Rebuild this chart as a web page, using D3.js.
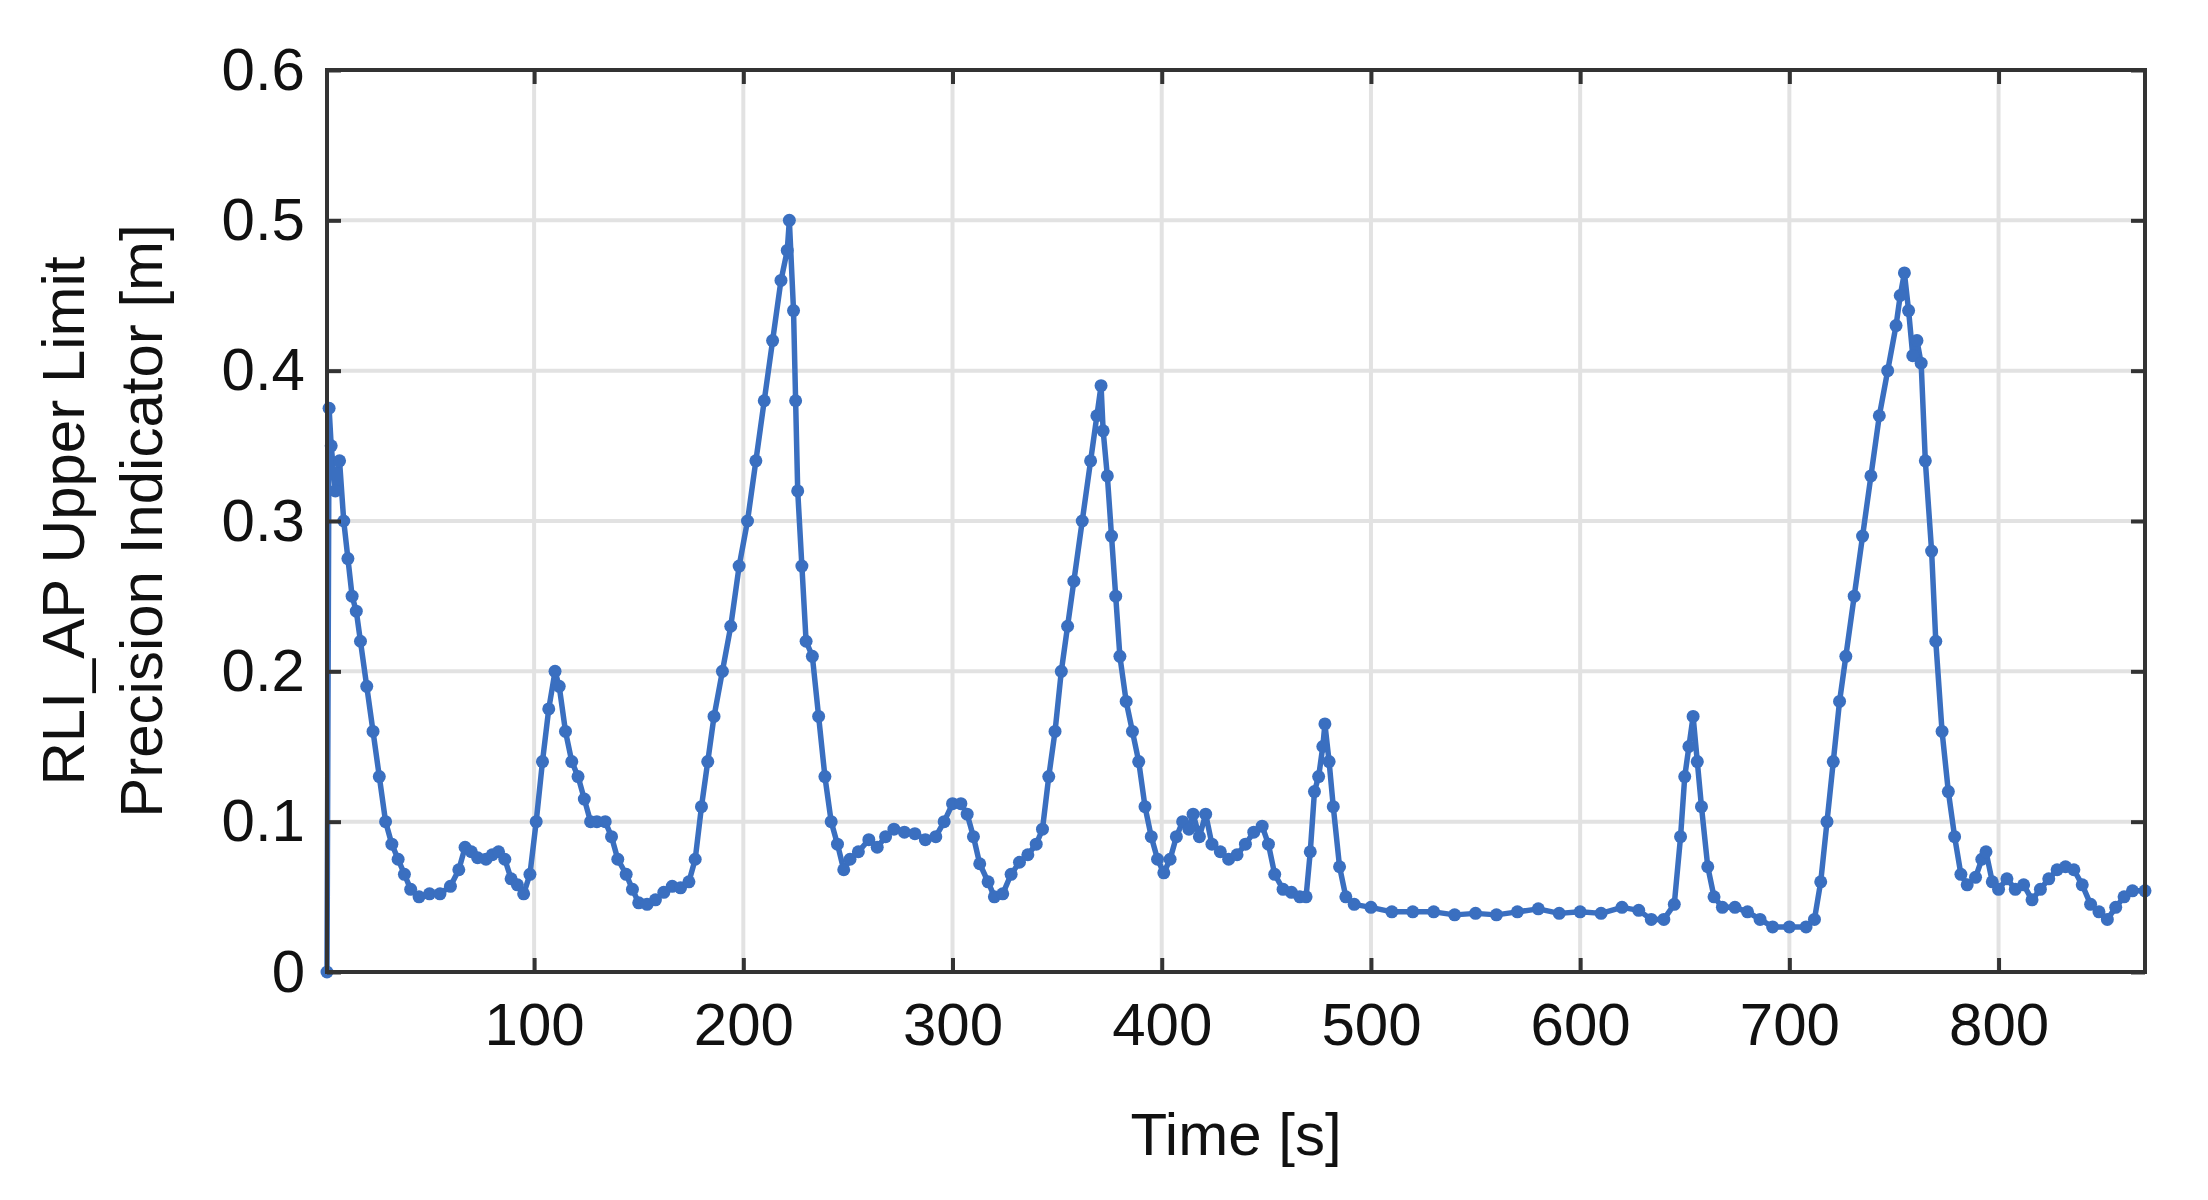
<!DOCTYPE html>
<html><head><meta charset="utf-8">
<script src="https://cdn.jsdelivr.net/npm/d3@7"></script>
<style>body{margin:0;background:#fff}</style></head>
<body><svg id="c" width="2208" height="1200"></svg>
<script>
const times=[1,2,3,5,7,9,11,13,15,17,20,23,26,29,32,35,38,41,45,50,55,60,64,67,70,73,77,80,83,86,89,92,95,98,101,104,107,110,112,115,118,121,124,127,130,134,137,140,144,147,150,154,158,162,166,170,174,177,180,183,186,190,194,198,202,206,210,214,218,221,222,224,225,226,228,230,233,236,239,242,245,248,251,255,260,264,268,272,277,282,287,292,296,300,304,307,310,313,317,320,324,328,332,336,340,343,346,349,352,355,358,362,366,369,371,372,374,376,378,380,383,386,389,392,395,398,401,404,407,410,413,415,418,421,424,428,432,436,440,444,448,451,454,458,462,466,469,471,473,475,477,478,480,482,485,488,492,500,510,520,530,540,550,560,570,580,590,600,610,620,628,634,640,645,648,650,652,654,656,658,661,664,668,674,680,686,692,700,708,712,715,718,721,724,727,731,735,739,743,747,751,753,755,757,759,761,763,765,768,770,773,776,779,782,785,789,792,794,797,800,804,808,812,816,820,824,828,832,836,840,844,848,852,856,860,864,870];
const rli=[0,0.375,0.35,0.32,0.34,0.30,0.275,0.25,0.24,0.22,0.19,0.16,0.13,0.10,0.085,0.075,0.065,0.055,0.05,0.052,0.052,0.057,0.068,0.083,0.08,0.076,0.075,0.078,0.08,0.075,0.062,0.058,0.052,0.065,0.1,0.14,0.175,0.2,0.19,0.16,0.14,0.13,0.115,0.1,0.1,0.1,0.09,0.075,0.065,0.055,0.046,0.045,0.048,0.053,0.057,0.056,0.06,0.075,0.11,0.14,0.17,0.2,0.23,0.27,0.3,0.34,0.38,0.42,0.46,0.48,0.5,0.44,0.38,0.32,0.27,0.22,0.21,0.17,0.13,0.1,0.085,0.068,0.075,0.08,0.088,0.083,0.09,0.095,0.093,0.092,0.088,0.09,0.1,0.112,0.112,0.105,0.09,0.072,0.06,0.05,0.052,0.065,0.073,0.078,0.085,0.095,0.13,0.16,0.2,0.23,0.26,0.3,0.34,0.37,0.39,0.36,0.33,0.29,0.25,0.21,0.18,0.16,0.14,0.11,0.09,0.075,0.066,0.075,0.09,0.1,0.095,0.105,0.09,0.105,0.085,0.08,0.075,0.078,0.085,0.093,0.097,0.085,0.065,0.055,0.053,0.05,0.05,0.08,0.12,0.13,0.15,0.165,0.14,0.11,0.07,0.05,0.045,0.043,0.04,0.04,0.04,0.038,0.039,0.038,0.04,0.042,0.039,0.04,0.039,0.043,0.041,0.035,0.035,0.045,0.09,0.13,0.15,0.17,0.14,0.11,0.07,0.05,0.043,0.043,0.04,0.035,0.03,0.03,0.03,0.035,0.06,0.1,0.14,0.18,0.21,0.25,0.29,0.33,0.37,0.4,0.43,0.45,0.465,0.44,0.41,0.42,0.405,0.34,0.28,0.22,0.16,0.12,0.09,0.065,0.058,0.063,0.075,0.08,0.06,0.055,0.062,0.055,0.058,0.048,0.055,0.062,0.068,0.07,0.068,0.058,0.045,0.04,0.035,0.043,0.05,0.054,0.054];
const xTicks=[100,200,300,400,500,600,700,800];
const yTicks=[0,0.1,0.2,0.3,0.4,0.5,0.6];
const yTickLabels=["0","0.1","0.2","0.3","0.4","0.5","0.6"];
const data=times.map((t,i)=>({t,v:rli[i]}));
const L=327,R=2145,T=70,B=972,font="Liberation Sans, Arial, sans-serif",col="#3a6fc0";
const svg=d3.select("#c");
const x=d3.scaleLinear().domain([1,870]).range([L,R]);
const y=d3.scaleLinear().domain([0,0.6]).range([B,T]);
const g=svg.append("g");
g.selectAll(".gx").data(xTicks).join("line").attr("x1",d=>x(d)).attr("x2",d=>x(d)).attr("y1",T).attr("y2",B).attr("stroke","#e2e2e2").attr("stroke-width",4);
g.selectAll(".gy").data(yTicks).join("line").attr("y1",d=>y(d)).attr("y2",d=>y(d)).attr("x1",L).attr("x2",R).attr("stroke","#e2e2e2").attr("stroke-width",4);
svg.append("path").datum(data).attr("fill","none").attr("stroke",col).attr("stroke-width",5.5).attr("stroke-linejoin","round")
 .attr("d",d3.line().x(d=>x(d.t)).y(d=>y(d.v)));
svg.selectAll(".pt").data(data).join("circle").attr("cx",d=>x(d.t)).attr("cy",d=>y(d.v)).attr("r",6.5).attr("fill",col);
function st(a){a.select(".domain").remove();a.selectAll("line").attr("stroke","#333").attr("stroke-width",4);a.selectAll("text").attr("font-family",font).attr("font-size",60).attr("fill","#111");}
svg.append("g").attr("transform",`translate(0,${B})`).call(d3.axisBottom(x).tickValues(xTicks).tickSizeInner(-14).tickSizeOuter(0).tickPadding(30)).call(st);
svg.append("g").attr("transform",`translate(0,${T})`).call(d3.axisTop(x).tickValues(xTicks).tickSizeInner(-14).tickSizeOuter(0).tickFormat("")).call(st);
svg.append("g").attr("transform",`translate(${L},0)`).call(d3.axisLeft(y).tickValues(yTicks).tickFormat((d,i)=>yTickLabels[i]).tickSizeInner(-14).tickSizeOuter(0).tickPadding(22)).call(st);
svg.append("g").attr("transform",`translate(${R},0)`).call(d3.axisRight(y).tickValues(yTicks).tickSizeInner(-14).tickSizeOuter(0).tickFormat("")).call(st);
svg.append("rect").attr("x",L).attr("y",T).attr("width",R-L).attr("height",B-T).attr("fill","none").attr("stroke","#333").attr("stroke-width",4);
svg.append("text").attr("x",(L+R)/2).attr("y",1155).attr("text-anchor","middle").attr("font-family",font).attr("font-size",60).attr("fill","#111").text("Time [s]");
const yl=svg.append("text").attr("transform",`translate(0,${(T+B)/2}) rotate(-90)`).attr("text-anchor","middle").attr("font-family",font).attr("font-size",60).attr("fill","#111");
yl.append("tspan").attr("x",0).attr("y",84).text("RLI_AP Upper Limit");
yl.append("tspan").attr("x",0).attr("y",162).text("Precision Indicator [m]");
</script></body></html>
